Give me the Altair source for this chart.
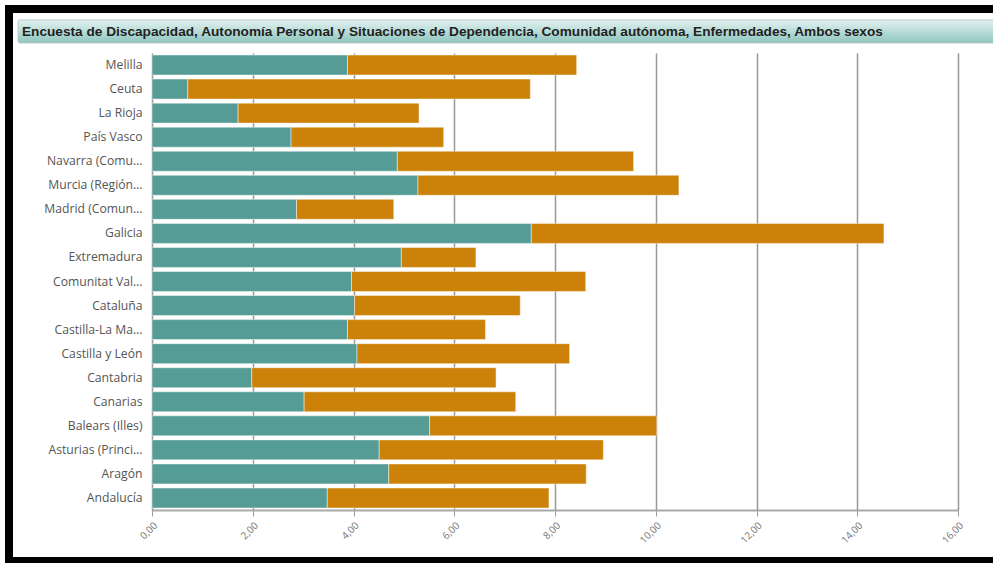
import altair as alt
import pandas as pd

regions = ["Melilla", "Ceuta", "La Rioja", "País Vasco", "Navarra (Comu…",
           "Murcia (Región…", "Madrid (Comun…", "Galicia", "Extremadura",
           "Comunitat Val…", "Cataluña", "Castilla-La Ma…", "Castilla y León",
           "Cantabria", "Canarias", "Balears (Illes)", "Asturias (Princi…",
           "Aragón", "Andalucía"]
serie1 = [3.88, 0.71, 1.71, 2.76, 4.87, 5.28, 2.87, 7.53, 4.95, 3.96,
          4.02, 3.88, 4.07, 1.98, 3.02, 5.51, 4.51, 4.70, 3.48]
serie2 = [4.55, 6.80, 3.59, 3.03, 4.69, 5.18, 1.93, 7.00, 1.48, 4.65,
          3.29, 2.74, 4.22, 4.85, 4.20, 4.51, 4.45, 3.92, 4.40]
series_names = ["Serie 1", "Serie 2"]
series_colors = ["#559C97", "#CC8208"]
title_text = ("Encuesta de Discapacidad, Autonomía Personal y Situaciones de "
              "Dependencia, Comunidad autónoma, Enfermedades, Ambos sexos")

rows = []
for i, r in enumerate(regions):
    rows.append({"region": r, "serie": series_names[0], "orden": 0, "valor": serie1[i]})
    rows.append({"region": r, "serie": series_names[1], "orden": 1, "valor": serie2[i]})
df = pd.DataFrame(rows)

W, H = 806, 457
PL, PT = 152, 53

bars = alt.Chart(df).mark_bar(stroke="#ffffff", strokeOpacity=0.45, strokeWidth=1).encode(
    y=alt.Y("region:N", sort=regions,
            scale=alt.Scale(paddingInner=0.17, paddingOuter=0.085),
            axis=alt.Axis(title=None, ticks=False, labelPadding=10, labelFont="Open Sans",
                          labelFontSize=12.2, labelColor="#555555", domainColor="#999999",
                          labelLimit=200, grid=False)),
    x=alt.X("valor:Q", stack="zero",
            scale=alt.Scale(domain=[0, 16], nice=False),
            axis=alt.Axis(title=None, values=list(range(0, 17, 2)), labelAngle=-45,
                          labelExpr="replace(format(datum.value, '.2f'), '.', ',')",
                          labelFont="Open Sans", labelFontSize=10, labelColor="#777777",
                          labelPadding=4, tickSize=6, tickColor="#999999",
                          domainColor="#aaaaaa", domainWidth=2,
                          grid=True, gridColor="#999999", gridWidth=1.5)),
    color=alt.Color("serie:N", scale=alt.Scale(domain=series_names, range=series_colors),
                    legend=None),
    order=alt.Order("orden:Q"),
)

one = alt.Data(values=[{"a": 1}])

black = "#000000"
top_band = alt.Chart(one).mark_rect(color=black).encode(
    x=alt.value(5 - PL), x2=alt.value(1000 - PL), y=alt.value(5 - PT), y2=alt.value(13 - PT))
left_band = alt.Chart(one).mark_rect(color=black).encode(
    x=alt.value(5 - PL), x2=alt.value(13 - PL), y=alt.value(5 - PT), y2=alt.value(570 - PT))
bottom_band = alt.Chart(one).mark_rect(color=black).encode(
    x=alt.value(5 - PL), x2=alt.value(1000 - PL), y=alt.value(557 - PT), y2=alt.value(570 - PT))

title_bar = alt.Chart(one).mark_rect(
    fill=alt.Gradient(gradient="linear", x1=0, y1=0, x2=0, y2=1,
                      stops=[alt.GradientStop(color="#e2f2f0", offset=0),
                             alt.GradientStop(color="#8ec5be", offset=1)]),
    stroke="#b5c9c6", strokeWidth=1, cornerRadius=2,
).encode(x=alt.value(18 - PL), x2=alt.value(1000 - PL), y=alt.value(20 - PT), y2=alt.value(43 - PT))

title_txt = alt.Chart(one).mark_text(
    text=title_text, font="Liberation Sans", fontSize=13.65, fontWeight="bold",
    color="#222222", align="left", baseline="middle",
).encode(x=alt.value(22 - PL), y=alt.value(31.5 - PT))

chart = alt.layer(top_band, left_band, bottom_band, title_bar, title_txt, bars).properties(
    width=W, height=H,
    autosize=alt.AutoSizeParams(type="none"),
    padding={"left": PL, "top": PT, "right": 993 - PL - W, "bottom": 563 - PT - H},
    background="white",
).configure_view(stroke=None)

chart.save("out.html", embed_options={"renderer": "svg", "actions": False})
